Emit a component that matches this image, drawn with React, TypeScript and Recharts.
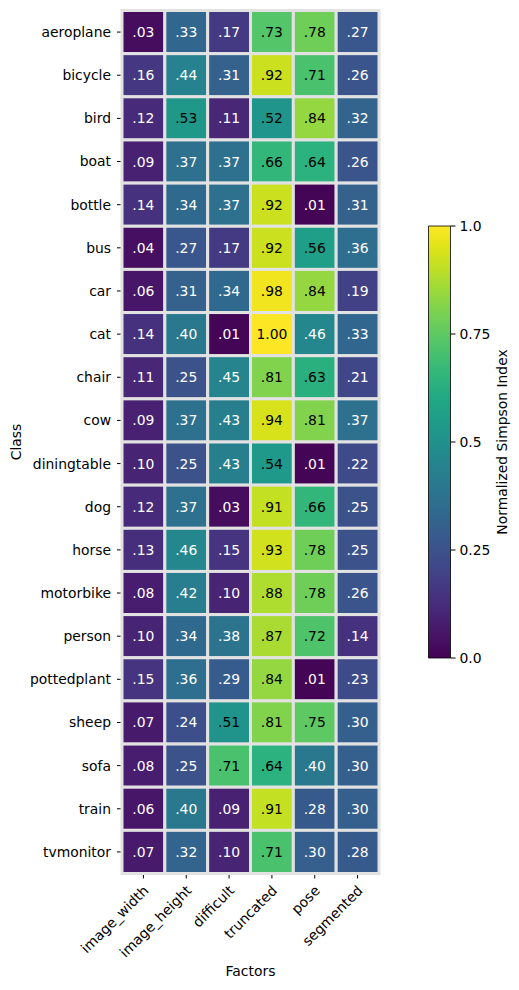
import { ScatterChart, Scatter, XAxis, YAxis, BarChart, Bar } from 'recharts';

const classes = [
  'aeroplane', 'bicycle', 'bird', 'boat', 'bottle', 'bus', 'car', 'cat', 'chair', 'cow',
  'diningtable', 'dog', 'horse', 'motorbike', 'person', 'pottedplant', 'sheep', 'sofa', 'train', 'tvmonitor',
];
const factors = ['image_width', 'image_height', 'difficult', 'truncated', 'pose', 'segmented'];

// one array per factor, in class order
const imageWidth = [0.03, 0.16, 0.12, 0.09, 0.14, 0.04, 0.06, 0.14, 0.11, 0.09, 0.10, 0.12, 0.13, 0.08, 0.10, 0.15, 0.07, 0.08, 0.06, 0.07];
const imageHeight = [0.33, 0.44, 0.53, 0.37, 0.34, 0.27, 0.31, 0.40, 0.25, 0.37, 0.25, 0.37, 0.46, 0.42, 0.34, 0.36, 0.24, 0.25, 0.40, 0.32];
const difficult = [0.17, 0.31, 0.11, 0.37, 0.37, 0.17, 0.34, 0.01, 0.45, 0.43, 0.43, 0.03, 0.15, 0.10, 0.38, 0.29, 0.51, 0.71, 0.09, 0.10];
const truncated = [0.73, 0.92, 0.52, 0.66, 0.92, 0.92, 0.98, 1.00, 0.81, 0.94, 0.54, 0.91, 0.93, 0.88, 0.87, 0.84, 0.81, 0.64, 0.91, 0.71];
const pose = [0.78, 0.71, 0.84, 0.64, 0.01, 0.56, 0.84, 0.46, 0.63, 0.81, 0.01, 0.66, 0.78, 0.78, 0.72, 0.01, 0.75, 0.40, 0.28, 0.30];
const segmented = [0.27, 0.26, 0.32, 0.26, 0.31, 0.36, 0.19, 0.33, 0.21, 0.37, 0.22, 0.25, 0.25, 0.26, 0.14, 0.23, 0.30, 0.30, 0.30, 0.28];

const colorbarTicks = [0, 0.25, 0.5, 0.75, 1];
const colorbarLabels = ['0.0', '0.25', '0.5', '0.75', '1.0'];

const columns = [imageWidth, imageHeight, difficult, truncated, pose, segmented];
const cells = classes.flatMap((cls, r) => columns.map((col, c) => ({ x: c, y: r, value: col[r], cls })));

// viridis, sampled every 0.05
const VIRIDIS = [
  '#440154', '#471365', '#482475', '#463480', '#414487', '#3b528b', '#355f8d', '#2f6c8e', '#2a788e', '#25848e',
  '#21918c', '#1e9c89', '#22a884', '#2fb47c', '#44bf70', '#5ec962', '#7ad151', '#9bd93c', '#bddf26', '#dfe318', '#fde725',
];
const hex = (h: string) => [1, 3, 5].map((i) => parseInt(h.slice(i, i + 2), 16));
function viridis(t: number) {
  const p = Math.max(0, Math.min(1, t)) * (VIRIDIS.length - 1);
  const i = Math.min(Math.floor(p), VIRIDIS.length - 2);
  const f = p - i;
  const a = hex(VIRIDIS[i]);
  const b = hex(VIRIDIS[i + 1]);
  const c = a.map((v, k) => Math.round(v + (b[k] - v) * f));
  return `rgb(${c[0]},${c[1]},${c[2]})`;
}
const fmt = (v: number) => (v >= 1 ? v.toFixed(2) : v.toFixed(2).replace(/^0/, ''));

const FONT = 'DejaVu Sans, sans-serif';
const FS = 13.9;
const W = 519;
const H = 990;
const PLOT = { left: 122, right: 379, top: 10.5, bottom: 873.5 };
const cellW = (PLOT.right - PLOT.left) / factors.length;
const cellH = (PLOT.bottom - PLOT.top) / classes.length;
const GRID = '#e2e2e2';

const Cell = (props: any) => {
  const { cx, cy, payload } = props;
  const v = payload.value;
  return (
    <g>
      <rect x={cx - cellW / 2} y={cy - cellH / 2} width={cellW} height={cellH} fill={viridis(v)} stroke={GRID} strokeWidth={3} />
      <text x={cx} y={cy} dy="0.36em" textAnchor="middle" fontFamily={FONT} fontSize={FS} fill={v > 0.5 ? '#000' : '#fff'}>
        {fmt(v)}
      </text>
    </g>
  );
};

const FactorTick = (props: any) => {
  const { x, y, payload } = props;
  const px = x + 6;
  const py = y + 11;
  return (
    <text x={px} y={py} transform={`rotate(-45, ${px}, ${py})`} textAnchor="end" fontFamily={FONT} fontSize={FS} fill="#000">
      {factors[payload.value]}
    </text>
  );
};

export default function App() {
  return (
    <div style={{ position: 'absolute', left: 0, top: 0, width: W, height: H, background: '#fff' }}>
      <div style={{ position: 'absolute', left: 0, top: 0 }}>
        <ScatterChart
          width={W}
          height={H}
          margin={{ top: PLOT.top, right: W - PLOT.right, bottom: 0, left: 0 }}
        >
          <XAxis
            type="number"
            dataKey="x"
            domain={[-0.5, factors.length - 0.5]}
            ticks={factors.map((_, i) => i)}
            interval={0}
            height={H - PLOT.bottom}
            axisLine={false}
            tickLine={{ stroke: '#000', strokeWidth: 1 }}
            tickSize={5}
            tick={<FactorTick />}
            label={{
              content: () => (
                <text x={(PLOT.left + PLOT.right) / 2} y={976} textAnchor="middle" fontFamily={FONT} fontSize={FS} fill="#000">
                  Factors
                </text>
              ),
            }}
          />
          <YAxis
            type="number"
            dataKey="y"
            reversed
            domain={[-0.5, classes.length - 0.5]}
            ticks={classes.map((_, i) => i)}
            interval={0}
            width={PLOT.left}
            axisLine={false}
            tickLine={{ stroke: '#000', strokeWidth: 1 }}
            tickSize={5}
            tickMargin={6}
            tickFormatter={(i: number) => classes[i]}
            tick={{ fontFamily: FONT, fontSize: FS, fill: '#000' }}
            label={{
              content: () => (
                <text x={21} y={442} transform="rotate(-90, 21, 442)" textAnchor="middle" fontFamily={FONT} fontSize={FS} fill="#000">
                  Class
                </text>
              ),
            }}
          />
          <Scatter data={cells} shape={<Cell />} isAnimationActive={false} />
        </ScatterChart>
      </div>
      <div style={{ position: 'absolute', left: 400, top: 200 }}>
        <BarChart
          width={119}
          height={500}
          data={[{ name: 'cb', v: 1 }]}
          margin={{ top: 26, right: 28.5, bottom: 42, left: 28.5 }}
          barCategoryGap={0}
        >
          <defs>
            <linearGradient id="cbGrad" x1="0" y1="1" x2="0" y2="0">
              {VIRIDIS.map((c, i) => (
                <stop key={i} offset={`${(i / (VIRIDIS.length - 1)) * 100}%`} stopColor={c} />
              ))}
            </linearGradient>
          </defs>
          <XAxis dataKey="name" hide />
          <YAxis
            orientation="right"
            domain={[0, 1]}
            ticks={colorbarTicks}
            interval={0}
            width={40}
            axisLine={false}
            tickLine={{ stroke: '#000', strokeWidth: 1 }}
            tickSize={5}
            tickMargin={4}
            tickFormatter={(v: number) => colorbarLabels[colorbarTicks.indexOf(v)]}
            tick={{ fontFamily: FONT, fontSize: FS, fill: '#000', textAnchor: 'start' }}
            label={{
              content: () => (
                <text x={107} y={242} transform="rotate(-90, 107, 242)" textAnchor="middle" fontFamily={FONT} fontSize={FS} fill="#000">
                  Normalized Simpson Index
                </text>
              ),
            }}
          />
          <Bar dataKey="v" fill="url(#cbGrad)" stroke="#000" strokeWidth={0.8} isAnimationActive={false} />
        </BarChart>
      </div>
    </div>
  );
}
